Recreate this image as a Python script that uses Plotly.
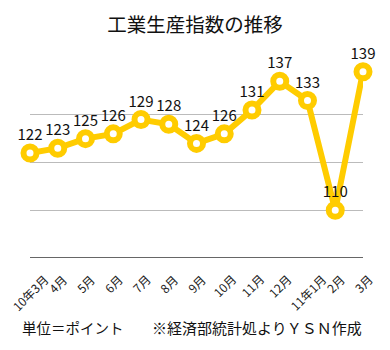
import plotly.graph_objects as go

months = ["10年3月", "4月", "5月", "6月", "7月", "8月", "9月", "10月", "11月", "12月", "11年1月", "2月", "3月"]
values = [122, 123, 125, 126, 129, 128, 124, 126, 131, 137, 133, 110, 139]
y_ticks = [100, 110, 120, 130, 140]

FONT = "Noto Sans CJK JP"
YELLOW = "#FFCC00"
x_idx = list(range(len(months)))

W, H = 390, 350
ML, MR, MT, MB = 30, 27, 67, 92
PW, PH = W - ML - MR, H - MT - MB


def px_x(px):
    return (px - ML) / PW


def px_y(py):
    return (H - MB - py) / PH


fig = go.Figure()
fig.add_trace(go.Scatter(
    x=x_idx, y=values,
    mode="lines+markers+text",
    line=dict(color=YELLOW, width=6),
    marker=dict(size=13, color="white", line=dict(color=YELLOW, width=6)),
    text=[str(v) for v in values],
    textposition="top center",
    textfont=dict(family=FONT, size=15, color="#111"),
    cliponaxis=False,
    hoverinfo="skip",
))

annotations = [
    dict(text="単位＝ポイント", x=px_x(20), y=px_y(327), xref="paper", yref="paper",
         xanchor="left", yanchor="middle", showarrow=False,
         font=dict(family=FONT, size=14.5, color="#111")),
    dict(text="※経済部統計処よりＹＳＮ作成", x=px_x(364), y=px_y(327), xref="paper", yref="paper",
         xanchor="right", yanchor="middle", showarrow=False,
         font=dict(family=FONT, size=15, color="#111")),
]
for i, m in enumerate(months):
    annotations.append(dict(
        text=m, x=i, xref="x", y=px_y(268), yref="paper",
        xanchor="center", yanchor="top", textangle=-45,
        showarrow=False, font=dict(family=FONT, size=12, color="#222"),
    ))

fig.update_layout(
    width=W, height=H,
    margin=dict(l=ML, r=MR, t=MT, b=MB),
    paper_bgcolor="white", plot_bgcolor="white",
    showlegend=False,
    title=dict(text="工業生産指数の推移", x=0.5, xanchor="center", y=1 - 25 / H, yanchor="middle",
               font=dict(family=FONT, size=19.5, color="#111")),
    xaxis=dict(
        range=[0, len(months) - 1], showticklabels=False,
        showgrid=False, zeroline=False, showline=False, ticks="",
    ),
    yaxis=dict(
        range=[y_ticks[0], y_ticks[-1]], tickvals=y_ticks,
        showticklabels=False, showgrid=True, gridcolor="#BBBBBB", gridwidth=1,
        zeroline=False, showline=False, ticks="",
    ),
    annotations=annotations,
    shapes=[
        dict(type="line", xref="paper", yref="y", x0=0, x1=1, y0=y_ticks[0], y1=y_ticks[0],
             line=dict(color="#333333", width=1.5)),
    ],
)
fig.update_xaxes(automargin=False)
fig.update_yaxes(automargin=False)
fig.write_html("out.html")
